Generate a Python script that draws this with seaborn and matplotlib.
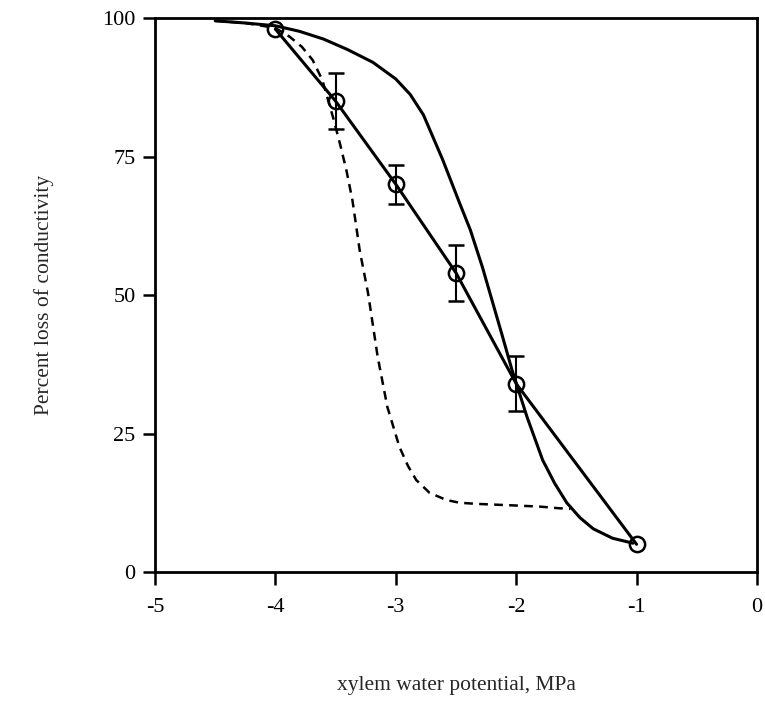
import matplotlib
matplotlib.use("Agg")
import matplotlib.pyplot as plt
import seaborn as sns

# Measured points (open circles) with error bars
obs_x = [-4.0, -3.5, -3.0, -2.5, -2.0, -1.0]
obs_y = [98, 85, 70, 54, 34, 5]
obs_err = [0, 5, 3.5, 5, 5, 0]

# Solid fitted curve
solid_x = [-4.5, -4.25, -4.0, -3.8, -3.6, -3.4, -3.19, -3.0, -2.88, -2.77, -2.61,
           -2.47, -2.38, -2.28, -2.2, -2.12, -2.035, -1.91, -1.78, -1.68,
           -1.58, -1.47, -1.36, -1.2, -1.03]
solid_y = [99.5, 99.1, 98.6, 97.6, 96.2, 94.3, 92.0, 89.0, 86.2, 82.5, 74.4,
           66.6, 61.7, 55, 49, 43, 36.5, 28, 20.2, 16,
           12.5, 9.8, 7.8, 6.1, 5.2]

# Dashed curve
dash_x = [-4.5, -4.25, -4.0, -3.88, -3.78, -3.69, -3.61, -3.52, -3.46, -3.41,
          -3.36, -3.30, -3.23, -3.15, -3.07, -2.97, -2.90, -2.83, -2.72,
          -2.58, -2.47, -2.33, -2.0, -1.8, -1.64, -1.55]
dash_y = [99.5, 99.1, 98.2, 96.6, 94.8, 92.4, 88.8, 82, 77, 72.5,
          67.1, 58.1, 50.3, 38.8, 29.8, 22.6, 19.2, 16.6, 14.3,
          13, 12.5, 12.3, 12, 11.8, 11.5, 11.4]

x_ticks = [-5, -4, -3, -2, -1, 0]
y_ticks = [0, 25, 50, 75, 100]

sns.set_theme(style="ticks")
plt.rcParams['font.family'] = ['Liberation Serif', 'DejaVu Serif']

fig = plt.figure(figsize=(7.65, 7.04), dpi=100)
ax = fig.add_axes([0.2026, 0.1875, 0.7869, 0.7869])

sns.lineplot(x=solid_x, y=solid_y, ax=ax, color="black", linewidth=2.2,
             sort=False, estimator=None)
sns.lineplot(x=dash_x, y=dash_y, ax=ax, color="black", linewidth=1.8,
             sort=False, estimator=None)
ax.lines[-1].set_linestyle((0, (3.5, 2.5)))

ex = [x for x, e in zip(obs_x, obs_err) if e > 0]
ey = [y for y, e in zip(obs_y, obs_err) if e > 0]
ee = [e for e in obs_err if e > 0]
ax.errorbar(ex, ey, yerr=ee, fmt="none", ecolor="black",
            elinewidth=1.5, capsize=6, capthick=1.8)
sns.lineplot(x=obs_x, y=obs_y, ax=ax, color="black", linewidth=2.2,
             marker="o", markersize=11, markerfacecolor="none",
             markeredgecolor="black", markeredgewidth=1.8,
             sort=False, estimator=None)

ax.set_xlim(-5, 0)
ax.set_ylim(0, 100)
ax.set_xticks(x_ticks)
ax.set_xticklabels([str(v) for v in x_ticks])
ax.set_yticks(y_ticks)
ax.set_yticklabels([str(v) for v in y_ticks])
ax.tick_params(direction="out", length=9, width=1.8, labelsize=16,
               color="black", labelcolor="black")
ax.tick_params(axis="x", pad=10)
ax.tick_params(axis="y", pad=5)
for s in ax.spines.values():
    s.set_linewidth(2)
    s.set_color("black")

ax.set_xlabel("xylem water potential, MPa", fontsize=15.5, labelpad=42)
ax.set_ylabel("Percent loss of conductivity", fontsize=15.5, labelpad=35)

fig.savefig("out.png", dpi=100)
